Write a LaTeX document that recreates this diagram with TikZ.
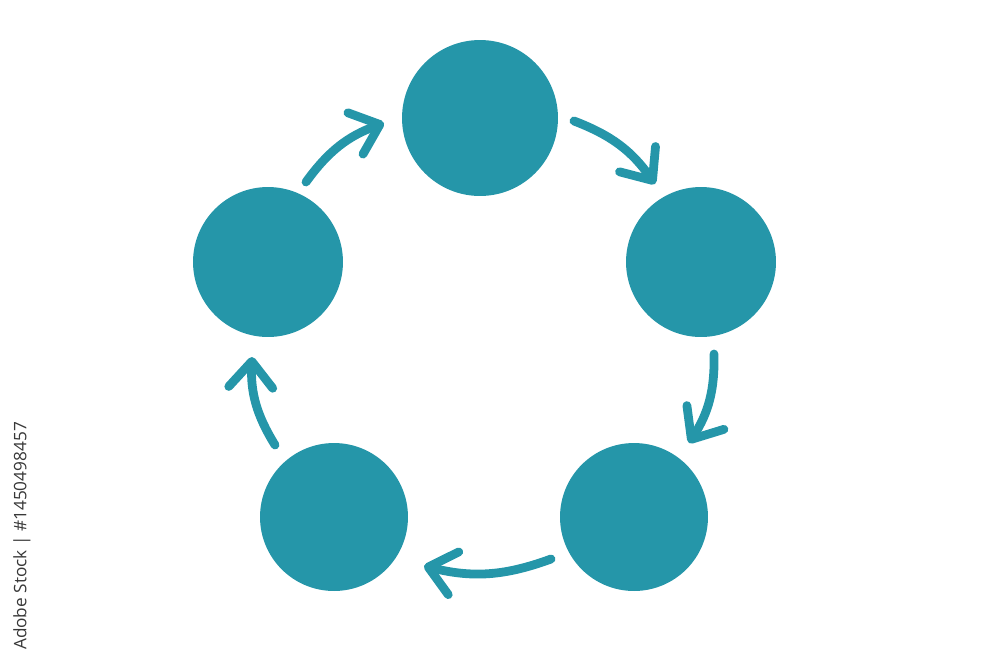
\documentclass[tikz,border=0pt]{standalone}
\usepackage{fontspec}
\setmainfont{Open Sans}
\usetikzlibrary{arrows.meta}
\definecolor{teal1}{RGB}{37,150,169}
\begin{document}
\begin{tikzpicture}[x=0.02cm,y=-0.02cm,
  blob/.style={circle,fill=teal1,draw=none,inner sep=0pt},
  cyc/.style={draw=teal1,line width=5pt,line cap=round,line join=round,
    -{Straight Barb[length=5.2mm,width=8.8mm,round]}}]
\useasboundingbox (0,0) rectangle (1000,667);
\node[blob,minimum size=3.12cm] (top) at (480,118) {};
\node[blob,minimum size=3.0cm] (right) at (701,262) {};
\node[blob,minimum size=2.96cm] (br) at (634,517) {};
\node[blob,minimum size=2.96cm] (bl) at (334,517) {};
\node[blob,minimum size=3.0cm] (left) at (268,262) {};
\coordinate (a1s) at (306,182);
\coordinate (a1e) at (384,123);
\coordinate (a2s) at (574,121);
\coordinate (a2e) at (655,184);
\coordinate (a3s) at (714,354);
\coordinate (a3e) at (689,443);
\coordinate (a4s) at (551,559);
\coordinate (a4e) at (424,566);
\coordinate (a5s) at (275,445);
\coordinate (a5e) at (252,357);
\draw[cyc] (a1s) to[bend left=17] (a1e);
\draw[cyc] (a2s) to[bend left=17] (a2e);
\draw[cyc] (a3s) to[bend left=17] (a3e);
\draw[cyc] (a4s) to[bend left=17] (a4e);
\draw[cyc] (a5s) to[bend left=17] (a5e);
\node[rotate=90,text=black!78,font=\fontsize{9.8}{11}\selectfont,inner sep=0pt] (wm) at (22,536) {Adobe Stock | \#1450498457};
\end{tikzpicture}
\end{document}
